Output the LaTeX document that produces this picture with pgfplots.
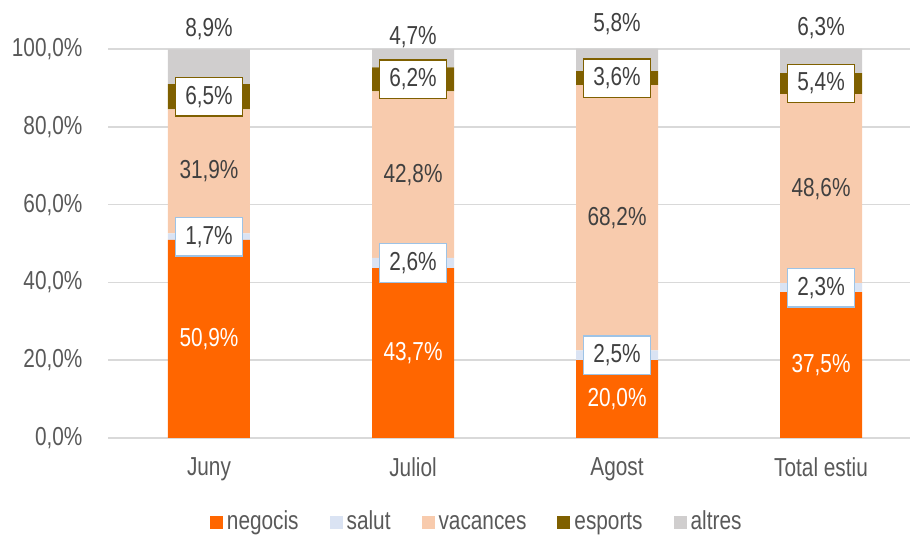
\documentclass[border=0pt]{standalone}
\usepackage{pgfplots}
\pgfplotsset{compat=1.18}
\usepackage{pgfplotstable}
\usepackage{fontspec}
\setmainfont{Liberation Sans}[FakeStretch=0.8]
\definecolor{cneg}{HTML}{FF6600}
\definecolor{csal}{HTML}{DAE3F3}
\definecolor{cvac}{HTML}{F8CBAD}
\definecolor{cesp}{HTML}{7F6000}
\definecolor{calt}{HTML}{D0CECE}
\definecolor{cgrid}{HTML}{D9D9D9}
\definecolor{ctick}{HTML}{595959}
\definecolor{clab}{HTML}{404040}
\definecolor{csalb}{HTML}{9DC3E6}
\newcommand\fs{\fontsize{26}{30}\selectfont}

\pgfplotstableread{
x neg sal vac esp alt altpos
0 50.9 1.7 31.9 6.5 8.9 105.1
1 43.7 2.6 42.8 6.2 4.7 103.1
2 20.0 2.5 68.2 3.6 5.8 106.4
3 37.5 2.3 48.6 5.4 6.3 105.3
}\data

\pgfplotsset{
  base/.style={scale only axis, width=802pt, height=389pt,
    at={(108pt,100pt)}, anchor=south west,
    xmin=-0.495, xmax=3.436, ymin=0, ymax=100,
    /pgf/number format/assume math mode=true},
  pct/.style={point meta=explicit, nodes near coords={\pgfmathprintnumber[fixed,fixed zerofill,precision=1,use comma]{\pgfplotspointmeta}\%}},
  boxlab/.style={every node near coord/.append style={anchor=center, font=\fs, text=clab, fill=white, draw=#1, line width=1.3pt, inner xsep=10pt, inner ysep=8.5pt}},
}

\begin{document}
\begin{tikzpicture}
\path[use as bounding box] (0,0) rectangle (910pt,538pt);
\begin{axis}[base,
  ybar stacked, bar width=82pt,
  ymajorgrids, grid style={draw=cgrid, line width=1.5pt},
  ytick={0,20,40,60,80,100},
  xtick={0,1,2,3}, xticklabels={Juny,Juliol,Agost,Total estiu},
  axis line style={draw=none}, major tick style={draw=none},
  yticklabel={\pgfmathprintnumber[fixed,fixed zerofill,precision=1,use comma]{\tick}\%},
  ticklabel style={font=\fs, text=ctick},
  xticklabel style={yshift=-16pt},
  yticklabel style={xshift=-22pt},
  legend columns=5,
  legend style={draw=none, fill=none, font=\fs, text=ctick,
    at={(0.461,-0.226)}, anchor=center,
    nodes={inner sep=4pt, text height=0.72em, text depth=0.21em},
    /tikz/every even column/.append style={column sep=27pt}},
  legend image code/.code={\fill[#1] (0pt,-1.5pt) rectangle (13pt,11.5pt);},
]
\addplot[fill=cneg, draw=none] table[x=x, y=neg]{\data};
\addlegendentry{negocis}
\addplot[fill=csal, draw=none] table[x=x, y=sal]{\data};
\addlegendentry{salut}
\addplot[fill=cvac, draw=none] table[x=x, y=vac]{\data};
\addlegendentry{vacances}
\addplot[fill=cesp, draw=none] table[x=x, y=esp]{\data};
\addlegendentry{esports}
\addplot[fill=calt, draw=none] table[x=x, y=alt]{\data};
\addlegendentry{altres}
\end{axis}
\begin{axis}[base, hide axis, clip=false]
\addplot[draw=none, mark=none, pct, every node near coord/.append style={anchor=center, font=\fs, text=white}]
  table[x=x, y expr=\thisrow{neg}/2, meta=neg]{\data};
\addplot[draw=none, mark=none, pct, boxlab=csalb]
  table[x=x, y expr=\thisrow{neg}+\thisrow{sal}/2, meta=sal]{\data};
\addplot[draw=none, mark=none, pct, every node near coord/.append style={anchor=center, font=\fs, text=clab}]
  table[x=x, y expr=\thisrow{neg}+\thisrow{sal}+\thisrow{vac}/2, meta=vac]{\data};
\addplot[draw=none, mark=none, pct, boxlab=cesp]
  table[x=x, y expr=\thisrow{neg}+\thisrow{sal}+\thisrow{vac}+\thisrow{esp}/2, meta=esp]{\data};
\addplot[draw=none, mark=none, pct, every node near coord/.append style={anchor=center, font=\fs, text=clab}]
  table[x=x, y=altpos, meta=alt]{\data};
\end{axis}
\end{tikzpicture}
\end{document}
